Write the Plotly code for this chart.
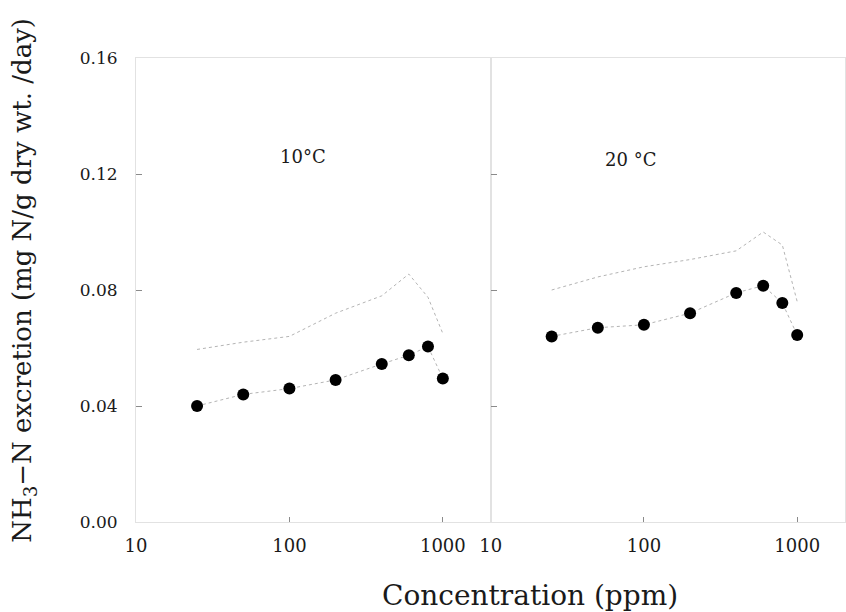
import plotly.graph_objects as go

# Concentrations tested (ppm), shared by both temperatures
conc = [25, 50, 100, 200, 400, 600, 800, 1000]

# NH3-N excretion (mg N / g dry wt. / day)
nh3_10C = [0.040, 0.044, 0.046, 0.049, 0.0545, 0.0575, 0.0605, 0.0495]
nh3_20C = [0.064, 0.067, 0.068, 0.072, 0.079, 0.0815, 0.0755, 0.0645]

# Upper (unmarked) dotted curves
upper_10C = [0.0595, 0.062, 0.064, 0.072, 0.078, 0.0855, 0.0775, 0.065]
upper_20C = [0.080, 0.0845, 0.088, 0.0905, 0.0935, 0.100, 0.0955, 0.076]

x_ticks = [10, 100, 1000]
y_ticks = [0.00, 0.04, 0.08, 0.12, 0.16]
y_tick_text = ["0.00", "0.04", "0.08", "0.12", "0.16"]

SERIF = "DejaVu Serif"
FAINT = "#b4b4b4"

fig = go.Figure()

panels = [
    ("x", "y", nh3_10C, upper_10C),
    ("x2", "y2", nh3_20C, upper_20C),
]
for xa, ya, vals, upper in panels:
    fig.add_trace(go.Scatter(
        x=conc, y=upper, xaxis=xa, yaxis=ya, mode="lines",
        line=dict(color=FAINT, width=1, dash="dot"),
        showlegend=False, hoverinfo="skip",
    ))
    fig.add_trace(go.Scatter(
        x=conc, y=vals, xaxis=xa, yaxis=ya, mode="lines+markers",
        line=dict(color=FAINT, width=1, dash="dot"),
        marker=dict(color="black", size=12, symbol="circle"),
        showlegend=False,
    ))

split = 354.7 / 709.0
x_common = dict(
    type="log", range=[1, 3.312], tickvals=x_ticks,
    ticktext=[str(v) for v in x_ticks],
    ticks="inside", ticklen=5, tickcolor="#8a8a8a", tickwidth=1,
    showline=True, linecolor="#e2e2e2", linewidth=1, mirror=True,
    showgrid=False, zeroline=False,
    tickfont=dict(family=SERIF, size=18, color="#1a1a1a"),
    ticklabelstandoff=7,
)
y_common = dict(
    range=[0, 0.16], tickvals=y_ticks, ticktext=y_tick_text,
    ticks="inside", ticklen=6, tickcolor="#8a8a8a", tickwidth=1,
    showline=True, linecolor="#e2e2e2", linewidth=1, mirror=True,
    showgrid=False, zeroline=False,
    tickfont=dict(family=SERIF, size=17, color="#1a1a1a"),
)

fig.update_layout(
    width=846, height=612, autosize=False,
    margin=dict(l=136, r=1, t=58, b=90),
    paper_bgcolor="white", plot_bgcolor="white",
    xaxis=dict(domain=[0, split], anchor="y", **x_common),
    xaxis2=dict(domain=[split, 1], anchor="y2", **x_common),
    yaxis=dict(anchor="x", ticklabelstandoff=14, **y_common),
    yaxis2=dict(anchor="x2", matches="y", showticklabels=False, **y_common),
    annotations=[
        dict(text="10°C", x=2.089, y=0.1262, xref="x", yref="y",
             showarrow=False, font=dict(family=SERIF, size=18, color="#1a1a1a")),
        dict(text="20 °C", x=1.915, y=0.125, xref="x2", yref="y2",
             showarrow=False, font=dict(family=SERIF, size=18, color="#1a1a1a")),
        dict(text="Concentration (ppm)", x=0.5557, y=-0.158,
             xref="paper", yref="paper", xanchor="center", yanchor="middle",
             showarrow=False, font=dict(family=SERIF, size=28, color="#1a1a1a")),
        dict(text="NH<sub>3</sub>−N excretion (mg N/g dry wt. /day)",
             x=-0.158, y=0.522, xref="paper", yref="paper",
             xanchor="center", yanchor="middle", textangle=-90,
             showarrow=False, font=dict(family=SERIF, size=26, color="#1a1a1a")),
    ],
)

fig.write_html("out.html")
